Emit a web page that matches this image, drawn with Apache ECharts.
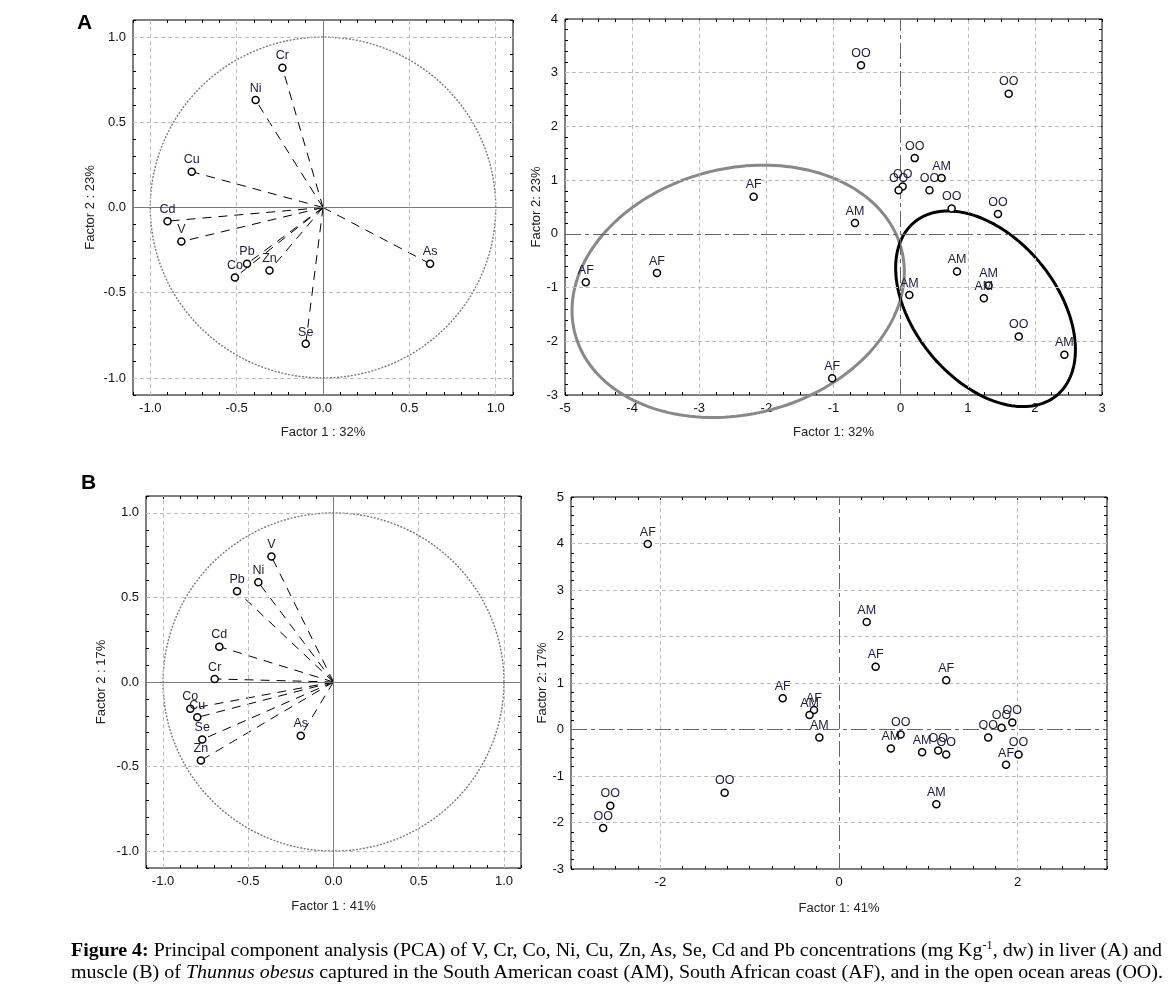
<!DOCTYPE html>
<html>
<head>
<meta charset="utf-8">
<script src="https://cdn.jsdelivr.net/npm/echarts@6/dist/echarts.min.js"></script>
<style>
html,body{margin:0;padding:0;background:#fff;}
#chart{position:absolute;left:0;top:0;width:1168px;height:991px;}
#caption{position:absolute;left:71px;top:939px;font-family:"Liberation Serif","Times New Roman",serif;font-size:19.5px;line-height:22px;color:#000;}
#caption div{white-space:nowrap;transform-origin:0 50%;width:max-content;}
</style>
</head>
<body>
<div id="chart"></div>
<div id="caption">
<div id="cap1"><b>Figure 4:</b> Principal component analysis (PCA) of V, Cr, Co, Ni, Cu, Zn, As, Se, Cd and Pb concentrations (mg Kg<sup style="font-size:12px;line-height:0">-1</sup>, dw) in liver (A) and</div>
<div id="cap2">muscle (B) of <i>Thunnus obesus</i> captured in the South American coast (AM), South African coast (AF), and in the open ocean areas (OO).</div>
</div>
<script>
// ---------- Panel A (liver): variable loadings ----------
const loadANames = ['V', 'Cr', 'Co', 'Ni', 'Cu', 'Zn', 'As', 'Se', 'Cd', 'Pb'];
const loadAF1 = [-0.82, -0.235, -0.51, -0.39, -0.76, -0.31, 0.62, -0.10, -0.90, -0.44];
const loadAF2 = [-0.20, 0.82, -0.41, 0.63, 0.21, -0.37, -0.33, -0.80, -0.08, -0.33];

// ---------- Panel A (liver): case scores ----------
const scoreALabels = ['OO', 'OO', 'OO', 'AM', 'OO', 'OO', 'OO', 'OO', 'OO', 'AM', 'AM', 'AM', 'AM', 'OO', 'AM', 'AF', 'AM', 'AF', 'AF', 'AF'];
const scoreAF1 = [-0.59, 1.61, 0.21, 0.61, 0.03, -0.03, 0.43, 0.76, 1.45, 0.84, 0.13, 1.31, 1.24, 1.76, 2.44, -2.19, -0.68, -3.63, -4.69, -1.02];
const scoreAF2 = [3.14, 2.61, 1.41, 1.04, 0.88, 0.81, 0.81, 0.47, 0.37, -0.70, -1.14, -0.96, -1.20, -1.91, -2.25, 0.69, 0.20, -0.73, -0.90, -2.69];

// group ellipses (data units): centre, semi-axes, rotation
const ellipseAF = { cx: -2.42, cy: -1.07, a: 2.60, b: 2.21, angleDeg: 35.5 };
const ellipseAM = { cx: 1.265, cy: -1.395, a: 1.956, b: 1.133, angleDeg: -63.4 };

// ---------- Panel B (muscle): variable loadings ----------
const loadBNames = ['V', 'Ni', 'Pb', 'Cd', 'Cr', 'Co', 'Cu', 'Se', 'Zn', 'As'];
const loadBF1 = [-0.364, -0.441, -0.566, -0.670, -0.697, -0.840, -0.799, -0.770, -0.778, -0.192];
const loadBF2 = [0.742, 0.590, 0.537, 0.209, 0.018, -0.158, -0.209, -0.340, -0.464, -0.318];

// ---------- Panel B (muscle): case scores ----------
const scoreBLabels = ['AF', 'AM', 'AF', 'AF', 'AF', 'AF', 'AM', 'AM', 'OO', 'AM', 'AM', 'OO', 'OO', 'OO', 'OO', 'OO', 'OO', 'AF', 'AM', 'OO', 'OO', 'OO'];
const scoreBF1 = [-2.14, 0.31, 0.41, 1.20, -0.63, -0.28, -0.33, -0.22, 0.69, 0.58, 0.93, 1.11, 1.20, 1.67, 1.82, 1.94, 2.01, 1.87, 1.09, -1.28, -2.56, -2.64];
const scoreBF2 = [3.99, 2.31, 1.35, 1.06, 0.67, 0.42, 0.31, -0.17, -0.11, -0.41, -0.49, -0.45, -0.54, -0.17, 0.04, 0.15, -0.54, -0.76, -1.61, -1.36, -1.64, -2.12];

// ---------- axis names / gridlines ----------
const axisNames = {
  A1x: 'Factor 1 : 32%', A1y: 'Factor 2 : 23%',
  A2x: 'Factor 1: 32%', A2y: 'Factor 2: 23%',
  B1x: 'Factor 1 : 41%', B1y: 'Factor 2 : 17%',
  B2x: 'Factor 1: 41%', B2y: 'Factor 2: 17%'
};
const loadGridVals = [-1, -0.5, 0.5, 1];
const scoreAGridX = [-4, -3, -2, -1, 1, 2];
const scoreAGridY = [-2, -1, 1, 2, 3];
const scoreBGridX = [-2, 2];
const scoreBGridY = [-2, -1, 1, 2, 3, 4];

const FONT = '"Liberation Sans", Arial, sans-serif';
const LABEL_COLOR = '#1c1c3a';

const grids = [
  { left: 133, top: 20, width: 380, height: 375 },
  { left: 565, top: 19, width: 537, height: 376 },
  { left: 146, top: 496, width: 375, height: 372 },
  { left: 571, top: 497, width: 536, height: 372 }
];

function fmtLabel(step, dec) {
  return function (v) {
    const r = v / step;
    if (Math.abs(r - Math.round(r)) > 1e-6) return '';
    const vv = Math.abs(v) < 1e-9 ? 0 : v;
    return vv.toFixed(dec);
  };
}

const xAxes = [], yAxes = [];
function addAxes(arr, gi, dim, min, max, tick, labStep, dec, name, nameGap) {
  const common = {
    gridIndex: gi, type: 'value', min: min, max: max, interval: tick,
    splitLine: { show: false }, axisLine: { show: false, onZero: false },
    axisTick: { show: true, inside: true, length: 3, lineStyle: { color: '#000', width: 1 } }
  };
  const main = Object.assign({}, common, {
    position: dim === 'x' ? 'bottom' : 'left',
    name: name, nameLocation: 'middle', nameGap: nameGap,
    nameTextStyle: { fontSize: 13, color: '#222', fontFamily: FONT },
    axisLabel: { formatter: fmtLabel(labStep, dec), fontSize: 13, color: '#111', fontFamily: FONT, margin: 7 }
  });
  const opp = Object.assign({}, common, {
    position: dim === 'x' ? 'top' : 'right',
    axisLabel: { show: false }
  });
  arr.push(main, opp);
}
// panel A left
addAxes(xAxes, 0, 'x', -1.1, 1.1, 0.1, 0.5, 1, axisNames.A1x, 31);
addAxes(yAxes, 0, 'y', -1.1, 1.1, 0.1, 0.5, 1, axisNames.A1y, 36);
// panel A right
addAxes(xAxes, 1, 'x', -5, 3, 0.25, 1, 0, axisNames.A2x, 31);
addAxes(yAxes, 1, 'y', -3, 4, 0.2, 1, 0, axisNames.A2y, 21);
// panel B left
addAxes(xAxes, 2, 'x', -1.1, 1.1, 0.1, 0.5, 1, axisNames.B1x, 32);
addAxes(yAxes, 2, 'y', -1.1, 1.1, 0.1, 0.5, 1, axisNames.B1y, 38);
// panel B right
addAxes(xAxes, 3, 'x', -3, 3, 0.25, 2, 0, axisNames.B2x, 33);
addAxes(yAxes, 3, 'y', -3, 5, 0.2, 1, 0, axisNames.B2y, 19);

const gridStyle = { color: '#bdbdbd', width: 1, type: [4, 3] };
const zeroSolid = { color: '#7a7a7a', width: 1, type: 'solid' };
const zeroDashDot = { color: '#666', width: 1, type: [16, 4, 4, 4] };

function gridSeries(gi, gx, gy, zeroStyle) {
  const data = [];
  gx.forEach(v => data.push({ xAxis: v, lineStyle: gridStyle }));
  gy.forEach(v => data.push({ yAxis: v, lineStyle: gridStyle }));
  data.push({ xAxis: 0, lineStyle: zeroStyle });
  data.push({ yAxis: 0, lineStyle: zeroStyle });
  return {
    type: 'scatter', xAxisIndex: 2 * gi, yAxisIndex: 2 * gi, data: [[0, 0]], symbolSize: 0,
    silent: true, z: 1,
    markLine: { silent: true, symbol: ['none', 'none'], label: { show: false }, animation: false, data: data }
  };
}

function ellipseSeries(gi, e, color, width, dash) {
  return {
    type: 'custom', xAxisIndex: 2 * gi, yAxisIndex: 2 * gi, data: [[e.cx, e.cy]], clip: false, silent: true, z: 3,
    renderItem: function (params, api) {
      const pts = [];
      const ang = e.angleDeg * Math.PI / 180;
      for (let k = 0; k <= 180; k++) {
        const t = k / 180 * 2 * Math.PI;
        const ux = e.a * Math.cos(t), uy = e.b * Math.sin(t);
        const x = e.cx + ux * Math.cos(ang) - uy * Math.sin(ang);
        const y = e.cy + ux * Math.sin(ang) + uy * Math.cos(ang);
        pts.push(api.coord([x, y]));
      }
      return { type: 'polyline', shape: { points: pts }, style: { stroke: color, lineWidth: width, fill: 'none', lineDash: dash || null } };
    }
  };
}

function loadingLines(gi, f1, f2) {
  return {
    type: 'lines', coordinateSystem: 'cartesian2d', xAxisIndex: 2 * gi, yAxisIndex: 2 * gi, silent: true, z: 4,
    lineStyle: { color: '#000', width: 1, type: [9, 7], opacity: 1 },
    data: f1.map((v, i) => ({ coords: [[0, 0], [v, f2[i]]] }))
  };
}

function pointSeries(gi, labels, f1, f2) {
  return {
    type: 'scatter', xAxisIndex: 2 * gi, yAxisIndex: 2 * gi, z: 6,
    symbol: 'circle', symbolSize: 7,
    itemStyle: { color: '#fff', borderColor: '#000', borderWidth: 1.5, opacity: 1 },
    label: { show: true, position: 'top', distance: 1, fontSize: 12.5, color: LABEL_COLOR, fontFamily: FONT, formatter: p => p.data[2] },
    labelLayout: { hideOverlap: false },
    data: f1.map((v, i) => [v, f2[i], labels[i]])
  };
}

const unitCircle = { cx: 0, cy: 0, a: 1, b: 1, angleDeg: 0 };

const option = {
  animation: false,
  backgroundColor: '#fff',
  grid: grids.map(g => Object.assign({ show: true, borderColor: '#000', borderWidth: 1, backgroundColor: 'transparent', containLabel: false }, g)),
  xAxis: xAxes,
  yAxis: yAxes,
  graphic: [
    { type: 'text', left: 77, top: 13, style: { text: 'A', font: 'bold 21px "Liberation Sans", Arial, sans-serif', fill: '#000' } },
    { type: 'text', left: 81, top: 473, style: { text: 'B', font: 'bold 21px "Liberation Sans", Arial, sans-serif', fill: '#000' } }
  ],
  series: [
    gridSeries(0, loadGridVals, loadGridVals, zeroSolid),
    ellipseSeries(0, unitCircle, '#7a7a7a', 1.4, [2, 1.5]),
    loadingLines(0, loadAF1, loadAF2),
    pointSeries(0, loadANames, loadAF1, loadAF2),

    gridSeries(1, scoreAGridX, scoreAGridY, zeroDashDot),
    ellipseSeries(1, ellipseAF, '#888', 3),
    ellipseSeries(1, ellipseAM, '#000', 3),
    pointSeries(1, scoreALabels, scoreAF1, scoreAF2),

    gridSeries(2, loadGridVals, loadGridVals, zeroSolid),
    ellipseSeries(2, unitCircle, '#7a7a7a', 1.4, [2, 1.5]),
    loadingLines(2, loadBF1, loadBF2),
    pointSeries(2, loadBNames, loadBF1, loadBF2),

    gridSeries(3, scoreBGridX, scoreBGridY, zeroDashDot),
    pointSeries(3, scoreBLabels, scoreBF1, scoreBF2)
  ]
};

const chart = echarts.init(document.getElementById('chart'), null, { renderer: 'canvas' });
chart.setOption(option);

// fit caption lines to the reference line widths
[['cap1', 1091], ['cap2', 1092]].forEach(([id, target]) => {
  const el = document.getElementById(id);
  const w = el.getBoundingClientRect().width;
  if (w > 0) el.style.transform = 'scaleX(' + (target / w).toFixed(4) + ')';
});
</script>
</body>
</html>
